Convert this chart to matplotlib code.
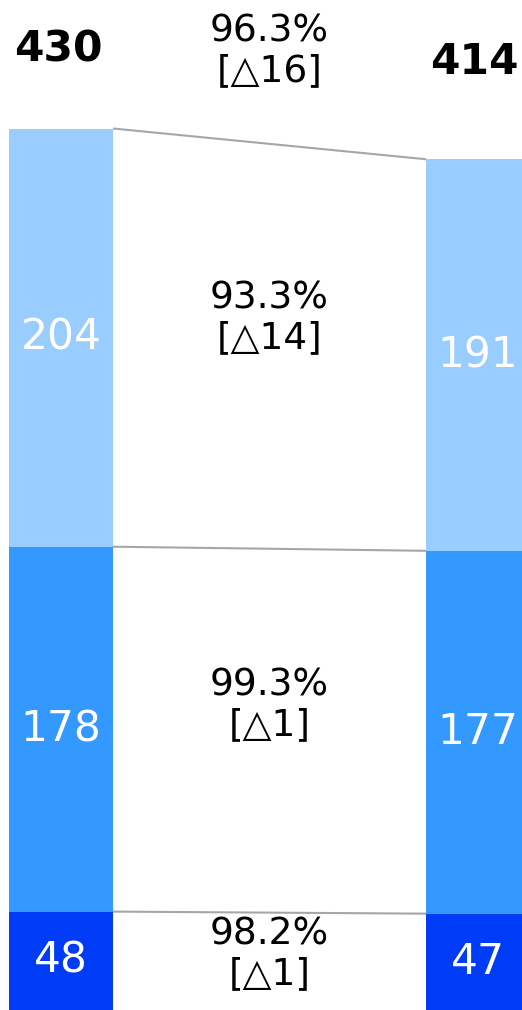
import numpy as np
import matplotlib.pyplot as plt
import matplotlib.transforms as mtransforms

# data
totals = [430, 414]
dark = [48, 47]
medium = [178, 177]
light = [204, 191]
ratio_labels = ["96.3%\n[△16]", "93.3%\n[△14]", "99.3%\n[△1]", "98.2%\n[△1]"]

colors = ['#003CF5', '#3399FF', '#99CCFF']
x = np.array([0, 1])
width = 0.2494

fig = plt.figure(figsize=(5.22, 10.10), dpi=100)
ax = fig.add_axes([0, 0, 1, 1])
ax.set_xlim(-0.1463, 1.1055)
ax.set_ylim(0, 1010 / 2.05)
ax.axis('off')

segments = [dark, medium, light]
bottom = np.zeros(2)
bounds = [bottom.copy()]
for seg, col in zip(segments, colors):
    seg = np.array(seg)
    ax.bar(x, seg, width=width, bottom=bottom, color=col, edgecolor='none')
    for xi, b, v in zip(x, bottom, seg):
        ax.text(xi, b + v / 2, str(v), ha='center', va='center',
                color='white', fontsize=30.5)
    bottom = bottom + seg
    bounds.append(bottom.copy())

# connector lines between stacked bar tops
xl = x[0] + width / 2
xr = x[1] - width / 2
for b in bounds[1:]:
    ax.plot([xl, xr], b, color='#A6A6A6', lw=1.5, solid_capstyle='butt')

# ratio labels in the gaps (about 43% down from the top edge)
for i in range(3):
    top = bounds[i + 1].mean()
    bot = bounds[i].mean()
    y = top - 0.43 * (top - bot)
    ax.text(0.5, y, ratio_labels[3 - i], ha='center', va='center',
            fontsize=27, linespacing=1.12)

trans = mtransforms.blended_transform_factory(ax.transData, ax.transAxes)
ax.text(0.5, 1 - 51 / 1010, ratio_labels[0], ha='center', va='center',
        fontsize=27, linespacing=1.12, transform=trans)
ax.text(x[0] - 0.007, 1 - 50 / 1010, str(totals[0]), ha='center', va='center',
        fontsize=30.5, fontweight='bold', transform=trans)
ax.text(x[1] - 0.01, 1 - 62 / 1010, str(totals[1]), ha='center', va='center',
        fontsize=30.5, fontweight='bold', transform=trans)

fig.savefig('out.png', dpi=100)
